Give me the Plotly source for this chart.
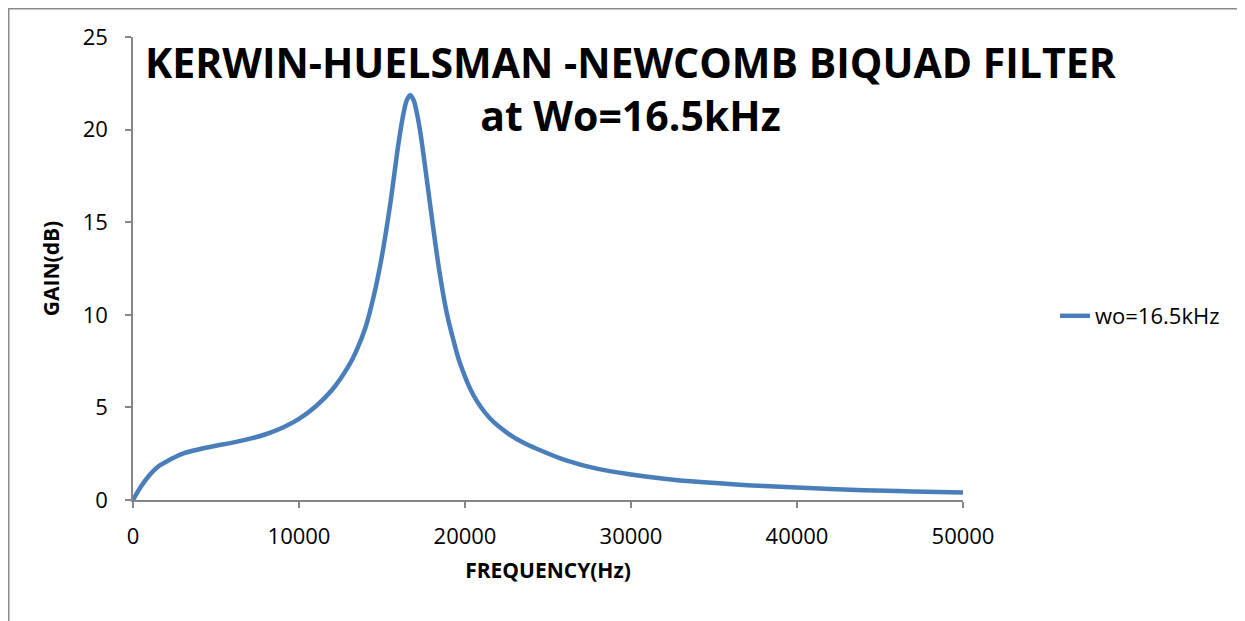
import plotly.graph_objects as go

# Data
freq_hz = [0, 500, 1000, 1500, 2000, 3000, 4000, 5000, 6000, 7000, 8000, 9000,
           10000, 11000, 12000, 13000, 13500, 14000, 14500, 15000, 15500, 16000,
           16300, 16500, 16700, 16900, 17100, 17300, 17700, 18100, 18500, 18900,
           19300, 19700, 20500, 21500, 22500, 23500, 24500, 26000, 28000, 30000,
           32000, 34000, 37000, 40000, 44000, 47000, 50000]
gain_db = [0.0, 0.75, 1.35, 1.8, 2.07, 2.5, 2.74, 2.93, 3.1, 3.3, 3.55, 3.9,
           4.38, 5.05, 5.95, 7.25, 8.15, 9.3, 11.0, 13.2, 16.0, 19.3,
           20.9, 21.6, 21.85, 21.6, 20.9, 19.9, 17.3, 14.6, 12.1, 10.1,
           8.64, 7.38, 5.67, 4.41, 3.65, 3.1, 2.7, 2.17, 1.68, 1.38,
           1.15, 0.98, 0.8, 0.67, 0.53, 0.46, 0.41]
series_name = "wo=16.5kHz"
x_ticks = [0, 10000, 20000, 30000, 40000, 50000]
y_ticks = [0, 5, 10, 15, 20, 25]
title_text = "KERWIN-HUELSMAN -NEWCOMB BIQUAD FILTER<br>at Wo=16.5kHz"

# Page body has an 8px margin, so the figure is laid out 8px smaller
W, H = 1237, 613
L, T = 125, 29
pw, ph = 830, 463
R = W - L - pw
B = H - T - ph

axis_color = "#868686"
font_fam = "Open Sans, Noto Sans, sans-serif"

fig = go.Figure()
fig.add_trace(go.Scatter(
    x=freq_hz, y=gain_db, mode="lines", name=series_name,
    line=dict(color="#4A7EBB", width=4.5, shape="spline", smoothing=1.0),
))

fig.update_layout(
    width=W, height=H,
    margin=dict(l=L, r=R, t=T, b=B, pad=0),
    paper_bgcolor="white", plot_bgcolor="white",
    font=dict(family=font_fam, color="black", size=22),
    showlegend=True,
    legend=dict(x=(1047 - L) / pw, y=(H - 308 - B) / ph, xanchor="left", yanchor="middle",
                font=dict(size=22, family=font_fam, color="black"),
                bgcolor="rgba(0,0,0,0)", borderwidth=0),
    xaxis=dict(range=[0, 50000], tickvals=x_ticks, ticktext=[str(v) for v in x_ticks],
               showgrid=False, zeroline=False, showline=True, linecolor=axis_color,
               linewidth=1.5, ticks="outside", ticklen=6, tickcolor=axis_color, tickwidth=1.5,
               tickfont=dict(size=22), ticklabelstandoff=10,
               title=dict(text="<b>FREQUENCY(Hz)</b>", font=dict(size=21), standoff=14)),
    yaxis=dict(range=[0, 25], tickvals=y_ticks, ticktext=[str(v) for v in y_ticks],
               showgrid=False, zeroline=False, showline=True, linecolor=axis_color,
               linewidth=1.5, ticks="outside", ticklen=6, tickcolor=axis_color, tickwidth=1.5,
               tickfont=dict(size=22), ticklabelstandoff=13,
               title=dict(text="<b>GAIN(dB)</b>", font=dict(size=21), standoff=17)),
)

# Title inside the plot area
fig.add_annotation(
    text="<b>" + title_text + "</b>", xref="paper", yref="paper",
    x=(623 - L) / pw, y=(H - 80 - B) / ph, xanchor="center", yanchor="middle",
    showarrow=False, font=dict(size=41, family=font_fam, color="black"), align="center",
)

# Chart outer border (left and top visible)
fig.add_shape(type="rect", xref="paper", yref="paper",
              x0=(0.75 - L) / pw, x1=(W + 10 - L) / pw,
              y0=(-10 - B) / ph, y1=(H - 0.75 - B) / ph,
              line=dict(color="#8a8a8a", width=1.5), fillcolor="rgba(0,0,0,0)", layer="below")

fig.write_html("out.html")
